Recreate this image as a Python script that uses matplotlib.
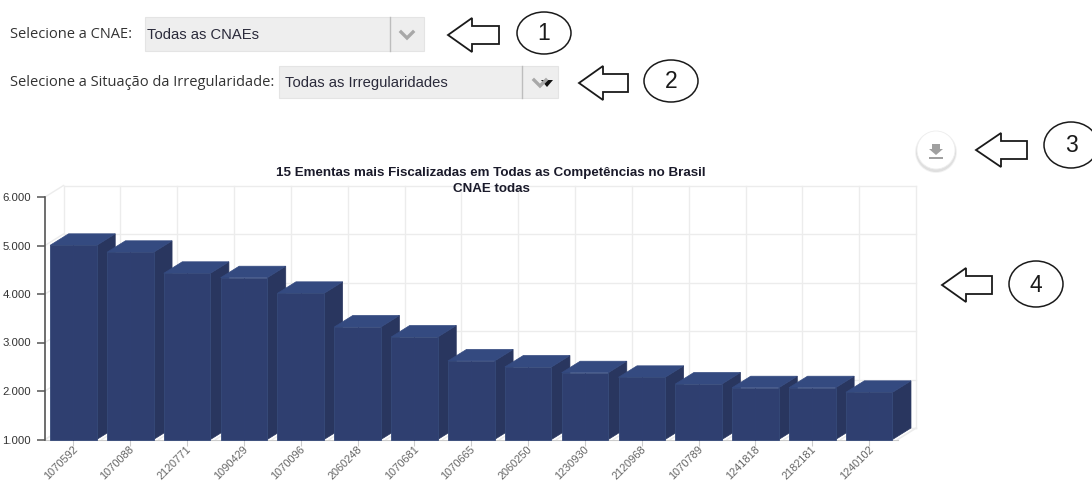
import matplotlib
matplotlib.use("Agg")
import matplotlib.pyplot as plt
from matplotlib.patches import Polygon, Ellipse, Circle, Rectangle
from matplotlib.ticker import FuncFormatter
from matplotlib.transforms import ScaledTranslation

plt.rcParams["font.family"] = ["Liberation Sans", "DejaVu Sans"]

codes = ["1070592", "1070088", "2120771", "1090429", "1070096", "2060248", "1070681", "1070665",
         "2060250", "1230930", "2120968", "1070789", "1241818", "2182181", "1240102"]
values = [5004, 4860, 4427, 4336, 4014, 3320, 3113, 2620, 2495, 2377, 2282, 2144, 2068, 2068, 1973]
y_ticks = [1000, 2000, 3000, 4000, 5000, 6000]
title_lines = ["15 Ementas mais Fiscalizadas em Todas as Competências no Brasil", "CNAE todas"]

W, H = 1092, 483
fig = plt.figure(figsize=(W / 100, H / 100), dpi=100, facecolor="white")

# eixo do grafico, posicionado em pixels
left, right, top, bottom = 45, 897.6, 197, 439.5
ax = fig.add_axes([left / W, 1 - bottom / H, (right - left) / W, (bottom - top) / H])
ax.set_xlim(-0.5, 14.5)
ax.set_ylim(1000, 6000)
ax.patch.set_alpha(0)

# profundidade 3d em unidades de dados
dx = 18.5 / ((right - left) / 15)
dy = 11.5 / ((bottom - top) / 5000)
x0, x1 = -0.5, 14.5
grid = "#ececec"

for t in y_ticks:
    ax.plot([x0 + dx, x1 + dx], [t + dy, t + dy], color=grid, lw=1, zorder=1, clip_on=False)
    ax.plot([x0, x0 + dx], [t, t + dy], color=grid, lw=1, zorder=1, clip_on=False)
for i in range(16):
    xb = x0 + i + dx
    ax.plot([xb, xb], [1000 + dy, 6000 + dy], color=grid, lw=1, zorder=1, clip_on=False)
    if i < 15:
        ax.plot([x0 + i, xb], [1000, 1000 + dy], color=grid, lw=1, zorder=1, clip_on=False)
ax.plot([x1, x1 + dx], [1000, 1000 + dy], color=grid, lw=1.2, zorder=1, clip_on=False)

# barras: frente, lado e topo
bw = 0.82
for i, v in enumerate(values):
    xa, xc = i - bw / 2, i + bw / 2
    z = 3 + i
    ax.add_patch(Polygon([(xc, 1000), (xc + dx, 1000 + dy), (xc + dx, v + dy), (xc, v)],
                         fc="#29365f", ec="#29365f", lw=0.5, zorder=z, clip_on=False))
    ax.add_patch(Polygon([(xa, v), (xa + dx, v + dy), (xc + dx, v + dy), (xc, v)],
                         fc="#344a80", ec="#344a80", lw=0.5, zorder=z, clip_on=False))
    ax.bar(i, v - 1000, bottom=1000, width=bw, color="#2f3f70", edgecolor="#364a7a", linewidth=0.6,
           zorder=z + 0.5, clip_on=False)
    ax.plot([i, i], [1000, v], color="#303f72", lw=0.6, zorder=z + 0.6, clip_on=False)

for s in ["top", "right"]:
    ax.spines[s].set_visible(False)
ax.spines["left"].set_color("#555555")
ax.spines["left"].set_linewidth(1.2)
ax.spines["bottom"].set_color("#cccccc")
ax.spines["bottom"].set_zorder(2)

ax.set_yticks(y_ticks)
ax.yaxis.set_major_formatter(FuncFormatter(lambda v, _: f"{int(v):,}".replace(",", ".")))
ax.tick_params(axis="y", length=6, width=1.1, color="#555555", labelsize=8.2, labelcolor="#333333", pad=4)
ax.set_xticks(range(15))
ax.set_xticklabels(codes, rotation=45, ha="right", va="center", rotation_mode="anchor")
ax.tick_params(axis="x", length=4, width=0.8, color="#cccccc", labelsize=7.9, labelcolor="#666666", pad=2)
# rotulos um pouco para a direita
shift = ScaledTranslation(2.5 / 100, 0, fig.dpi_scale_trans)
for lab in ax.get_xticklabels():
    lab.set_transform(lab.get_transform() + shift)

# camada de pixels para o restante da tela
ov = fig.add_axes([0, 0, 1, 1], zorder=20)
ov.set_xlim(0, W)
ov.set_ylim(H, 0)
ov.axis("off")
ov.patch.set_alpha(0)

ov.text(491, 173, title_lines[0], ha="center", va="center", fontsize=9.6, fontweight="bold", color="#1a1a2a")
ov.text(491, 189, title_lines[1], ha="center", va="center", fontsize=9.6, fontweight="bold", color="#1a1a2a")


def dropdown(label, text, bx, by, bw_, bh, div_x, lx=10):
    ov.text(lx, by + bh / 2, label, ha="left", va="center", fontsize=10.5, color="#333333", family="Open Sans")
    ov.add_patch(Rectangle((bx, by), bw_, bh, fc="#eeeeee", ec="#e4e4e4", lw=0.8))
    ov.plot([div_x, div_x], [by, by + bh], color="#bdbdbd", lw=1)
    ov.text(bx + 2 + (4 if bx > 200 else 0), by + bh / 2 + 1, text, ha="left", va="center", fontsize=10.6, color="#2a2a3a")
    cx, cy = (div_x + bx + bw_) / 2, by + bh / 2 + 1
    ov.plot([cx - 6, cx, cx + 6], [cy - 3, cy + 3, cy - 3], color="#a8a8a8", lw=2.4, solid_joinstyle="miter")


dropdown("Selecione a CNAE:", "Todas as CNAEs", 145, 17, 279, 34, 390)
dropdown("Selecione a Situação da Irregularidade:", "Todas as Irregularidades", 279, 66, 279, 32, 522)
ov.add_patch(Polygon([(541, 80), (553, 80), (547, 87)], fc="#111111", ec="none"))


def callout(tip_x, tip_y, base_x, end_x, cx, cy, rx, ry, num):
    pts = [(tip_x, tip_y), (base_x, tip_y - 17), (base_x, tip_y - 9), (end_x, tip_y - 9),
           (end_x, tip_y + 9), (base_x, tip_y + 9), (base_x, tip_y + 17)]
    ov.add_patch(Polygon(pts, fc="white", ec="#1a1a1a", lw=1.3))
    ov.add_patch(Ellipse((cx, cy), 2 * rx, 2 * ry, fc="white", ec="#1a1a1a", lw=1.1, clip_on=True))
    ov.text(cx, cy + 1, num, ha="center", va="center", fontsize=16.5, color="#1a1a1a")


callout(448, 35, 472, 499, 544, 33, 27, 21, "1")
callout(579, 83, 603, 628, 671, 81, 27, 21, "2")
callout(976, 150, 1001, 1027, 1071, 145, 27, 23, "3")
callout(942, 285, 966, 992, 1036, 284, 27, 23, "4")

# botao de download
for r, a in [(21, 0.05), (20, 0.08)]:
    ov.add_patch(Circle((936, 152), r, fc="black", ec="none", alpha=a))
ov.add_patch(Circle((936, 150), 19, fc="white", ec="#eeeeee", lw=0.6))
ov.add_patch(Polygon([(932, 144), (940, 144), (940, 149), (943, 149), (936, 155), (929, 149), (932, 149)],
                     fc="#a0a0a0", ec="none"))
ov.add_patch(Rectangle((929, 157), 14, 2, fc="#a0a0a0", ec="none"))

fig.savefig("out.png", dpi=100)
